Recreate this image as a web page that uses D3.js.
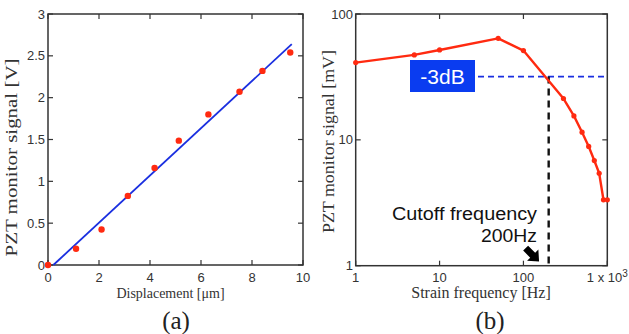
<!DOCTYPE html>
<html>
<head>
<meta charset="utf-8">
<script src="https://cdn.jsdelivr.net/npm/d3@7"></script>
<style>
  html, body { margin: 0; padding: 0; background: #fff; }
  svg { display: block; }
  .tick-label { font-family: "Liberation Sans", Arial, sans-serif; font-size: 13px; fill: #333; }
  .axis-title { font-family: "Liberation Serif", "Times New Roman", serif; fill: #333; }
  .panel-label { font-family: "Liberation Serif", "Times New Roman", serif; font-size: 25px; fill: #222; }
  .note { font-family: "Liberation Sans", Arial, sans-serif; font-size: 18px; fill: #111; }
</style>
</head>
<body>
<div id="chart"></div>
<script>
// ---- data (a): displacement vs PZT signal
const dispX = [0, 1.1, 2.1, 3.13, 4.18, 5.13, 6.29, 7.51, 8.41, 9.5];
const dispY = [0, 0.195, 0.425, 0.826, 1.16, 1.486, 1.80, 2.07, 2.32, 2.54];
const fitX = [0.21, 9.56];
const fitY = [0, 2.64];
const aTicksX = [0, 2, 4, 6, 8, 10];
const aTicksY = [0, 0.5, 1, 1.5, 2, 2.5, 3];

// ---- data (b): strain frequency response
const freqX = [1, 5, 10, 50, 100, 300, 400, 500, 600, 700, 800, 900, 1000];
const freqY = [41.1, 47.3, 51.8, 64.1, 51.2, 21.3, 15.5, 11.5, 8.86, 6.85, 5.43, 3.34, 3.34];
const bTicksX = [1, 10, 100, 1000];
const bTickLabelsX = ['1', '10', '100', '1 x 10'];
const bTicksY = [1, 10, 100];
const cutoffFreq = 200;
const cutoffLevel = 31.8;

const W = 629, H = 334;
const svg = d3.select('#chart').append('svg')
  .attr('width', W).attr('height', H);

const tickLen = 5;
const frameColor = '#333';

// draws the box with inward ticks on all four sides
function frame(g, x, y, xt, yt) {
  const [x0, x1] = x.range();
  const [y0, y1] = y.range(); // y0 bottom, y1 top
  g.append('rect')
    .attr('x', x0).attr('y', y1)
    .attr('width', x1 - x0).attr('height', y0 - y1)
    .attr('fill', 'none').attr('stroke', frameColor).attr('stroke-width', 1.5);
  const t = g.append('g').attr('stroke', frameColor).attr('stroke-width', 1.2);
  xt.forEach(v => {
    const px = x(v);
    t.append('line').attr('x1', px).attr('x2', px).attr('y1', y0).attr('y2', y0 - tickLen);
    t.append('line').attr('x1', px).attr('x2', px).attr('y1', y1).attr('y2', y1 + tickLen);
  });
  yt.forEach(v => {
    const py = y(v);
    t.append('line').attr('x1', x0).attr('x2', x0 + tickLen).attr('y1', py).attr('y2', py);
    t.append('line').attr('x1', x1).attr('x2', x1 - tickLen).attr('y1', py).attr('y2', py);
  });
}

// ===== panel (a) =====
{
  const g = svg.append('g');
  const x = d3.scaleLinear().domain([0, 10]).range([48, 303]);
  const y = d3.scaleLinear().domain([0, 3]).range([265, 14]);

  frame(g, x, y, aTicksX, aTicksY);

  g.selectAll('.xl').data(aTicksX).join('text')
    .attr('class', 'tick-label')
    .attr('x', d => x(d)).attr('y', 282)
    .attr('text-anchor', 'middle')
    .text(d => d3.format('~g')(d));

  g.selectAll('.yl').data(aTicksY).join('text')
    .attr('class', 'tick-label')
    .attr('x', 45).attr('y', d => y(d))
    .attr('dy', '0.35em')
    .attr('text-anchor', 'end')
    .text(d => d3.format('~g')(d));

  g.append('line')
    .attr('x1', x(fitX[0])).attr('y1', y(fitY[0]))
    .attr('x2', x(fitX[1])).attr('y2', y(fitY[1]))
    .attr('stroke', '#1a2fe0').attr('stroke-width', 1.8);

  g.selectAll('circle.pt').data(dispX.map((d, i) => [d, dispY[i]])).join('circle')
    .attr('cx', d => x(d[0])).attr('cy', d => y(d[1]))
    .attr('r', 3.2).attr('fill', '#ff2a10');

  g.append('text').attr('class', 'axis-title')
    .attr('x', 170.5).attr('y', 298).attr('text-anchor', 'middle')
    .style('font-size', '14px')
    .text('Displacement [μm]');

  g.append('text').attr('class', 'axis-title')
    .attr('transform', 'translate(17,157.5) rotate(-90)')
    .attr('text-anchor', 'middle')
    .style('font-size', '17px')
    .attr('textLength', 198).attr('lengthAdjust', 'spacingAndGlyphs')
    .text('PZT monitor signal [V]');

  g.append('text').attr('class', 'panel-label')
    .attr('x', 176).attr('y', 329).attr('text-anchor', 'middle')
    .text('(a)');
}

// ===== panel (b) =====
{
  const g = svg.append('g');
  const x = d3.scaleLog().domain([1, 1000]).range([355.7, 607.3]);
  const y = d3.scaleLog().domain([1, 100]).range([265.7, 14]);

  frame(g, x, y, bTicksX, bTicksY);

  const xl = g.selectAll('.xl').data(bTicksX).join('text')
    .attr('class', 'tick-label')
    .attr('x', d => x(d)).attr('y', 282)
    .attr('text-anchor', 'middle')
    .text((d, i) => bTickLabelsX[i]);
  xl.filter(d => d === 1000)
    .append('tspan').attr('dy', -5).style('font-size', '10px').text('3');

  g.selectAll('.yl').data(bTicksY).join('text')
    .attr('class', 'tick-label')
    .attr('x', 353).attr('y', d => y(d))
    .attr('dy', '0.35em')
    .attr('text-anchor', 'end')
    .text(d => d);

  // -3dB level line
  g.append('line')
    .attr('x1', 478).attr('x2', x.range()[1])
    .attr('y1', y(cutoffLevel)).attr('y2', y(cutoffLevel))
    .attr('stroke', '#1a2fe0').attr('stroke-width', 1.6)
    .attr('stroke-dasharray', '6,4');

  // cutoff vertical
  g.append('line')
    .attr('x1', x(cutoffFreq)).attr('x2', x(cutoffFreq))
    .attr('y1', y(cutoffLevel)).attr('y2', y.range()[0])
    .attr('stroke', '#111').attr('stroke-width', 2.4)
    .attr('stroke-dasharray', '7,5');

  const line = d3.line().x(d => x(d[0])).y(d => y(d[1]));
  const pts = freqX.map((d, i) => [d, freqY[i]]);
  g.append('path').datum(pts)
    .attr('d', line).attr('fill', 'none')
    .attr('stroke', '#ff2a10').attr('stroke-width', 2.4)
    .attr('stroke-linejoin', 'round');
  g.selectAll('circle.pt').data(pts).join('circle')
    .attr('cx', d => x(d[0])).attr('cy', d => y(d[1]))
    .attr('r', 2.6).attr('fill', '#ff2a10');

  // -3dB box
  g.append('rect')
    .attr('x', 410).attr('y', 60).attr('width', 65).attr('height', 32)
    .attr('fill', '#0a3cf0');
  g.append('text')
    .attr('x', 442.5).attr('y', 76).attr('dy', '0.36em')
    .attr('text-anchor', 'middle')
    .attr('font-family', '"Liberation Sans", Arial, sans-serif')
    .attr('font-size', 21).attr('fill', '#fff')
    .text('-3dB');

  // cutoff annotation
  g.append('text').attr('class', 'note')
    .attr('x', 392).attr('y', 220)
    .attr('textLength', 145).attr('lengthAdjust', 'spacingAndGlyphs')
    .text('Cutoff frequency');
  g.append('text').attr('class', 'note')
    .attr('x', 481).attr('y', 242)
    .attr('textLength', 56).attr('lengthAdjust', 'spacingAndGlyphs')
    .text('200Hz');

  // arrow pointing toward 200Hz on the axis
  g.append('path')
    .attr('d', 'M -9,-3.5 L 1,-3.5 L 1,-8 L 10,0 L 1,8 L 1,3.5 L -9,3.5 Z')
    .attr('transform', 'translate(532,254.5) rotate(45)')
    .attr('fill', '#000');

  g.append('text').attr('class', 'axis-title')
    .attr('x', 481).attr('y', 298).attr('text-anchor', 'middle')
    .style('font-size', '16px')
    .text('Strain frequency [Hz]');

  g.append('text').attr('class', 'axis-title')
    .attr('transform', 'translate(334,141.5) rotate(-90)')
    .attr('text-anchor', 'middle')
    .style('font-size', '17px')
    .attr('textLength', 183).attr('lengthAdjust', 'spacingAndGlyphs')
    .text('PZT monitor signal [mV]');

  g.append('text').attr('class', 'panel-label')
    .attr('x', 490).attr('y', 329).attr('text-anchor', 'middle')
    .text('(b)');
}
</script>
</body>
</html>
